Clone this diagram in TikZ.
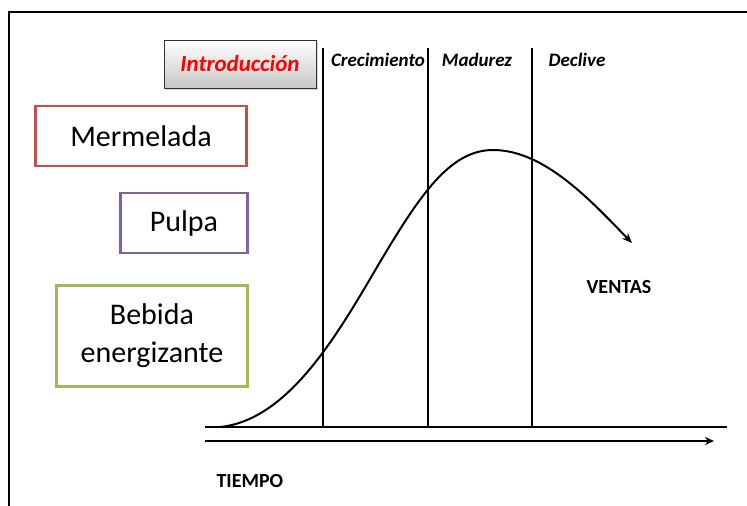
\documentclass[tikz,border=0pt]{standalone}
\usepackage{fontspec}
\setmainfont{Carlito}
\usetikzlibrary{positioning,arrows.meta,shadows}

\definecolor{rojo}{HTML}{C0504D}
\definecolor{morado}{HTML}{8064A2}
\definecolor{verde}{HTML}{9BBB59}

\tikzset{
  caja/.style={draw, line width=2.2pt, inner sep=0pt, align=center,
    font=\fontsize{30}{38}\selectfont},
  fase/.style={font=\fontsize{19}{22}\selectfont\bfseries\itshape},
  eje/.style={line width=1.6pt},
  rotulo/.style={font=\fontsize{20}{23}\selectfont\bfseries}
}

\begin{document}
\begin{tikzpicture}[x=1pt,y=-1pt]
  \useasboundingbox (0,0) rectangle (747,506);
  % marco
  \draw[line width=1.5pt] (9,506) -- (9,12) -- (747,12);

  % productos
  \node[caja, draw=rojo, minimum width=211pt, minimum height=60pt] (mermelada) at (141,136) {Mermelada};
  \node[caja, draw=morado, minimum width=127pt, minimum height=60pt] (pulpa) at (184,223) {Pulpa};
  \node[caja, draw=verde, minimum width=191pt, minimum height=101pt] (bebida) at (152,336) {Bebida\\energizante};

  % etapas
  \node[draw=black!80, line width=1pt, top color=white, bottom color=black!22,
    drop shadow={shadow xshift=1.5pt, shadow yshift=-1.5pt, opacity=.35},
    minimum width=152pt, minimum height=48pt, text=red,
    font=\fontsize{23}{27}\selectfont\bfseries\itshape] (intro) at (240,64) {Introducción};
  \coordinate (l1) at (323,48);
  \coordinate (l2) at (428,48);
  \coordinate (l3) at (532,48);
  \foreach \c in {l1,l2,l3}
    \draw[eje] (\c) -- (\c |- 0,427);
  \node[fase] (crec) at (378,60) {Crecimiento};
  \node[fase] (madu) at (477,60) {Madurez};
  \node[fase] (decl) at (577,60) {Declive};

  % ejes
  \coordinate (o) at (205,427);
  \coordinate (ox) at (727,427);
  \coordinate (t0) at (205,441);
  \coordinate (t1) at (714,441);
  \draw[eje] (o) -- (ox);
  \draw[eje, -{Stealth[length=9pt,width=8pt]}] (t0) -- (t1);
  \node[rotulo, anchor=west] (tiempo) at (213,481) {TIEMPO};

  % curva de ventas
  \draw[line width=2pt, -{Stealth[length=10pt,width=8pt]}]
    (220,427) .. controls (290,420) and (340,330) .. (380,262)
    .. controls (420,195) and (450,150) .. (493,150)
    .. controls (545,150) and (592,202) .. (632,243);
  \node[rotulo] (ventas) at (619,287) {VENTAS};
\end{tikzpicture}
\end{document}
